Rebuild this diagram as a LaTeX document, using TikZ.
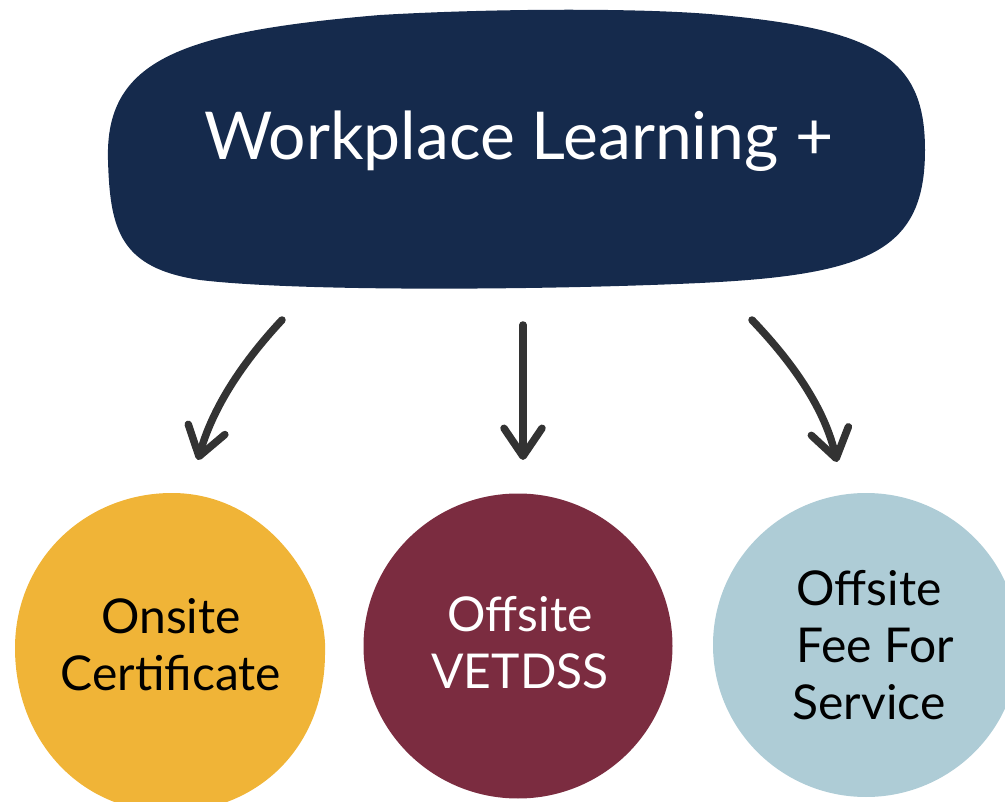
\documentclass[tikz,border=0pt]{standalone}
\usepackage{fontspec}
\setmainfont{Lato}
\usetikzlibrary{arrows.meta}
\definecolor{navy}{HTML}{152A4C}
\definecolor{gold}{HTML}{F0B437}
\definecolor{wine}{HTML}{7B2C40}
\definecolor{sky}{HTML}{AECCD6}
\definecolor{ink}{HTML}{333333}
\tikzset{
  bodytext/.style={font=\fontsize{48}{57}\selectfont, align=center, inner sep=0pt},
  titletext/.style={font=\fontsize{66}{72}\selectfont, text=white, inner sep=0pt},
  conn/.style={draw=ink, line width=7.5pt, line cap=round, line join=round,
    -{Straight Barb[length=28pt, width=38pt, line width=7.5pt, round]}}
}
\begin{document}
\begin{tikzpicture}[x=1pt,y=-1pt]
\useasboundingbox (0,0) rectangle (1005,802);
\clip (0,0) rectangle (1005,802);
% top blob
\fill[navy] (108,160) .. controls (105,60) and (180,32) .. (380,15)
  .. controls (500,8) and (650,8) .. (720,15)
  .. controls (880,30) and (925,60) .. (925,150)
  .. controls (925,250) and (870,275) .. (700,283)
  .. controls (550,290) and (300,292) .. (200,280)
  .. controls (120,268) and (110,230) .. (108,160) -- cycle;
\node[titletext] (top) at (519,141) {Workplace Learning +};
% circles
\fill[gold] (172,493) .. controls (240,493) and (290,540) .. (312,590)
  .. controls (322,615) and (326,635) .. (325,655)
  .. controls (324,750) and (255,812) .. (170,812)
  .. controls (80,812) and (15,740) .. (15,648)
  .. controls (15,560) and (85,493) .. (172,493) -- cycle;
\fill[wine] (518,646) ellipse [x radius=154.5, y radius=152.5];
\fill[sky] (866,645) ellipse [x radius=153, y radius=152];
\node[bodytext, anchor=center] (onsite) at (171,645) {Onsite\\Certificate};
\node[bodytext, anchor=center, text=white] (vetdss) at (520,643) {Offsite\\VETDSS};
\node[bodytext, anchor=center] (fee) at (869,645) {Offsite\\\ Fee For\\Service};
% arrows
\coordinate (a1s) at (282,320); \coordinate (a1e) at (198,460);
\coordinate (a2s) at (523,325); \coordinate (a2e) at (523,460);
\coordinate (a3s) at (752,320); \coordinate (a3e) at (837,462);
\draw[conn] (a1s) .. controls (240,365) and (212,410) .. (a1e);
\draw[conn] (a2s) -- (a2e);
\draw[conn] (a3s) .. controls (795,365) and (825,410) .. (a3e);
\end{tikzpicture}
\end{document}
